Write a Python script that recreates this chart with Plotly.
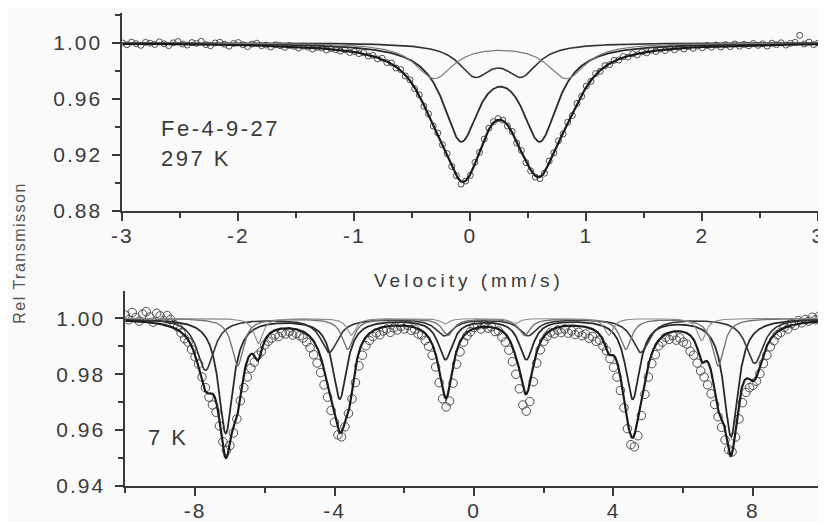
import numpy as np
import plotly.graph_objects as go

# ---------------- 297 K spectrum (top panel) ----------------
top_vmin, top_vmax = -3.0, 3.0
top_data = [
    0.9998, 0.9985, 1.0004, 0.9993, 0.9981, 1.0002, 0.9996, 0.9987, 1.0006, 0.9992,
    0.9979, 0.9999, 1.0008, 0.9990, 0.9983, 1.0001, 0.9995, 1.0010, 0.9986, 0.9978,
    0.9998, 1.0003, 0.9989, 0.9975, 0.9994, 1.0001, 0.9985, 0.9972, 0.9990, 0.9996,
    0.9978, 0.9983, 0.9969, 0.9985, 0.9979, 0.9966, 0.9980, 0.9974, 0.9961, 0.9975,
    0.9968, 0.9955, 0.9966, 0.9962, 0.9948, 0.9958, 0.9950, 0.9939, 0.9949, 0.9930,
    0.9937, 0.9922, 0.9928, 0.9905, 0.9909, 0.9884, 0.9889, 0.9858, 0.9855, 0.9819,
    0.9808, 0.9762, 0.9735, 0.9671, 0.9628, 0.9546, 0.9492, 0.9405, 0.9355, 0.9271,
    0.9208, 0.9116, 0.9050, 0.8990, 0.9012, 0.9052, 0.9145, 0.9217, 0.9312, 0.9390,
    0.9436, 0.9458, 0.9447, 0.9405, 0.9366, 0.9283, 0.9230, 0.9143, 0.9085, 0.9040,
    0.9029, 0.9068, 0.9155, 0.9213, 0.9299, 0.9348, 0.9432, 0.9480, 0.9566, 0.9617,
    0.9690, 0.9724, 0.9779, 0.9796, 0.9836, 0.9843, 0.9874, 0.9876, 0.9901, 0.9897,
    0.9921, 0.9913, 0.9935, 0.9927, 0.9946, 0.9937, 0.9955, 0.9944, 0.9962, 0.9950,
    0.9967, 0.9955, 0.9972, 0.9960, 0.9976, 0.9963, 0.9980, 0.9968, 0.9983, 0.9970,
    0.9986, 0.9972, 0.9991, 0.9975, 0.9988, 0.9978, 0.9994, 0.9981, 0.9992, 0.9976,
    0.9996, 0.9986, 0.9999, 0.9983, 0.9995, 1.0002, 1.0052, 0.9991, 1.0004, 0.9986,
    0.9997,
]
# fitted doublets: line positions (mm/s), dip depths, half widths
top_line_pos = [[-0.08, 0.60], [0.04, 0.44], [-0.31, 0.83]]
top_line_depth = [[0.066, 0.066], [0.0215, 0.0215], [0.025, 0.025]]
top_line_hwhm = [0.19, 0.17, 0.20]
top_xticks = [-3, -2, -1, 0, 1, 2, 3]
top_xminor = [-2.5, -1.5, -0.5, 0.5, 1.5, 2.5]
top_yticks = [0.88, 0.92, 0.96, 1.00]
top_yminor = [0.90, 0.94, 0.98, 1.02]

# ---------------- 7 K spectrum (bottom panel) ----------------
bot_vmin, bot_vmax = -10.0, 10.0
bot_data = [
    1.0012, 0.9995, 1.0021, 1.0003, 0.9990, 1.0015, 1.0024, 1.0005, 0.9986, 1.0018,
    1.0009, 0.9992, 1.0010, 0.9996, 0.9978, 0.9969, 0.9948, 0.9927, 0.9915, 0.9889,
    0.9862, 0.9836, 0.9790, 0.9752, 0.9718, 0.9690, 0.9664, 0.9615, 0.9558, 0.9528,
    0.9545, 0.9590, 0.9640, 0.9705, 0.9752, 0.9790, 0.9822, 0.9843, 0.9868, 0.9881,
    0.9905, 0.9918, 0.9929, 0.9941, 0.9935, 0.9949, 0.9944, 0.9952, 0.9940, 0.9946,
    0.9938, 0.9930, 0.9915, 0.9895, 0.9870, 0.9840, 0.9806, 0.9762, 0.9718, 0.9670,
    0.9628, 0.9583, 0.9576, 0.9612, 0.9660, 0.9712, 0.9770, 0.9830, 0.9868, 0.9902,
    0.9921, 0.9935, 0.9948, 0.9941, 0.9955, 0.9962, 0.9950, 0.9966, 0.9958, 0.9971,
    0.9962, 0.9975, 0.9957, 0.9961, 0.9944, 0.9940, 0.9921, 0.9900, 0.9868, 0.9826,
    0.9770, 0.9712, 0.9683, 0.9704, 0.9768, 0.9836, 0.9880, 0.9915, 0.9938, 0.9952,
    0.9967, 0.9975, 0.9962, 0.9978, 0.9965, 0.9970, 0.9953, 0.9955, 0.9934, 0.9915,
    0.9886, 0.9845, 0.9800, 0.9748, 0.9690, 0.9668, 0.9702, 0.9773, 0.9840, 0.9887,
    0.9918, 0.9936, 0.9950, 0.9945, 0.9958, 0.9949, 0.9962, 0.9947, 0.9955, 0.9942,
    0.9950, 0.9938, 0.9944, 0.9929, 0.9935, 0.9918, 0.9922, 0.9901, 0.9884, 0.9856,
    0.9825, 0.9790, 0.9742, 0.9680, 0.9605, 0.9548, 0.9540, 0.9580, 0.9652, 0.9728,
    0.9790, 0.9838, 0.9870, 0.9902, 0.9915, 0.9932, 0.9925, 0.9938, 0.9922, 0.9930,
    0.9915, 0.9908, 0.9882, 0.9868, 0.9840, 0.9812, 0.9790, 0.9762, 0.9730, 0.9692,
    0.9648, 0.9610, 0.9565, 0.9530, 0.9522, 0.9575, 0.9640, 0.9698, 0.9735, 0.9752,
    0.9760, 0.9775, 0.9802, 0.9838, 0.9868, 0.9898, 0.9920, 0.9941, 0.9950, 0.9968,
    0.9962, 0.9981, 0.9975, 0.9992, 0.9984, 0.9996, 0.9990, 1.0004, 0.9995, 1.0008,
    1.0002,
]
# fitted sextets: line positions (mm/s), dip depths, half widths
bot_line_pos = [
    [-7.12, -3.85, -0.82, 1.50, 4.55, 7.37],
    [-7.70, -4.15, -0.85, 1.55, 4.78, 8.05],
    [-6.78, -3.62, -0.75, 1.45, 4.35, 7.00],
    [-6.19, -3.52, -0.83, 1.17, 3.86, 6.53],
]
bot_line_depth = [
    [0.041, 0.0285, 0.0143, 0.0143, 0.0285, 0.042],
    [0.0185, 0.012, 0.006, 0.006, 0.012, 0.016],
    [0.017, 0.011, 0.006, 0.006, 0.011, 0.017],
    [0.009, 0.006, 0.002, 0.002, 0.006, 0.008],
]
bot_line_hwhm = [0.25, 0.30, 0.20, 0.15]
bot_xticks = [-8, -4, 0, 4, 8]
bot_xminor = [-10, -6, -2, 2, 6, 10]
bot_yticks = [0.94, 0.96, 0.98, 1.00]
bot_yminor = [0.95, 0.97, 0.99]

# ---------------- styles ----------------
top_comp_style = [("#2a2a2a", 1.8), ("#333333", 1.6), ("#7c7c7c", 1.2)]
bot_comp_style = [("#2a2a2a", 1.8), ("#353535", 1.6), ("#6f6f6f", 1.3), ("#8c8c8c", 1.1)]
total_color = "#1a1a1a"
axis_color = "#3a3a3a"
text_color = "#3a3a3a"
font_family = "Liberation Sans, Arial, sans-serif"
bg = "#fafafa"


def lorentz_dip(v, pos, depth, hwhm):
    out = np.zeros_like(v)
    for p, d in zip(pos, depth):
        out += d / (1.0 + ((v - p) / hwhm) ** 2)
    return out


fig = go.Figure()


def add_panel(data, vmin, vmax, pos, depth, hwhm, styles, xa, ya, msize):
    v = np.linspace(vmin, vmax, len(data))
    fig.add_trace(go.Scatter(
        x=v, y=data, mode="markers", xaxis=xa, yaxis=ya,
        marker=dict(symbol="circle-open", size=msize, color="#4f4f4f",
                    line=dict(width=1, color="#4f4f4f")),
        hoverinfo="skip"))
    grid = np.linspace(vmin, vmax, 2401)
    total = np.ones_like(grid)
    for p, d, w, (c, lw) in zip(pos, depth, hwhm, styles):
        dip = lorentz_dip(grid, p, d, w)
        total -= dip
        fig.add_trace(go.Scatter(
            x=grid, y=1.0 - dip, mode="lines", xaxis=xa, yaxis=ya,
            line=dict(color=c, width=lw), hoverinfo="skip"))
    fig.add_trace(go.Scatter(
        x=grid, y=total, mode="lines", xaxis=xa, yaxis=ya,
        line=dict(color=total_color, width=2.2), hoverinfo="skip"))


add_panel(top_data, top_vmin, top_vmax, top_line_pos, top_line_depth,
          top_line_hwhm, top_comp_style, "x", "y", 6)
add_panel(bot_data, bot_vmin, bot_vmax, bot_line_pos, bot_line_depth,
          bot_line_hwhm, bot_comp_style, "x2", "y2", 8.5)

W, H = 826, 522
OFF = 8  # page body margin of the browser


def px(xs):
    return (xs - OFF) / W


def py(ys):
    return (H - (ys - OFF)) / H


def axis_common():
    return dict(
        showline=True, linecolor=axis_color, linewidth=2,
        ticks="outside", ticklen=8, tickwidth=2, tickcolor=axis_color,
        showgrid=False, zeroline=False, mirror=False, automargin=False,
        tickfont=dict(family=font_family, size=21, color=text_color),
        tickmode="array",
    )


def minor(vals):
    return dict(tickvals=vals, ticklen=5, tickwidth=2, tickcolor=axis_color,
                ticks="outside", showgrid=False)


xa = axis_common()
xa.update(domain=[px(122.3), px(818.3)], range=[top_vmin, top_vmax], anchor="y",
          tickvals=top_xticks, ticktext=[str(t) for t in top_xticks],
          minor=minor(top_xminor), ticklabelstandoff=-3)
ya = axis_common()
ya.update(domain=[py(210.7), py(13)], range=[0.88, 1.0212], anchor="x",
          tickvals=top_yticks, ticktext=[f"{t:.2f}" for t in top_yticks],
          minor=minor(top_yminor), ticklabelstandoff=6)
xa2 = axis_common()
xa2.update(domain=[px(125.3), px(822.7)], range=[bot_vmin, bot_vmax], anchor="y2",
           tickvals=bot_xticks, ticktext=[str(t) for t in bot_xticks],
           minor=minor(bot_xminor), ticklabelstandoff=-3)
ya2 = axis_common()
ya2.update(domain=[py(486), py(290.7)], range=[0.94, 1.0099], anchor="x2",
           tickvals=bot_yticks, ticktext=[f"{t:.2f}" for t in bot_yticks],
           minor=minor(bot_yminor), ticklabelstandoff=6)

annotations = [
    dict(text="Velocity (mm/s)", x=px(469), y=py(280), xref="paper", yref="paper",
         showarrow=False, xanchor="center", yanchor="middle",
         font=dict(family=font_family, size=19, color=text_color)),
    dict(text="Rel Transmisson", x=px(19.5), y=py(253), xref="paper", yref="paper",
         showarrow=False, xanchor="center", yanchor="middle", textangle=-90,
         font=dict(family=font_family, size=16, color="#555555")),
    dict(text="Fe-4-9-27", x=px(159), y=py(128.5), xref="paper", yref="paper",
         showarrow=False, xanchor="left", yanchor="middle", align="left",
         font=dict(family=font_family, size=22, color=text_color)),
    dict(text="297 K", x=px(159), y=py(158), xref="paper", yref="paper",
         showarrow=False, xanchor="left", yanchor="middle", align="left",
         font=dict(family=font_family, size=22, color=text_color)),
    dict(text="7 K", x=px(146), y=py(437.5), xref="paper", yref="paper",
         showarrow=False, xanchor="left", yanchor="middle", align="left",
         font=dict(family=font_family, size=22, color=text_color)),
]

fig.update_layout(
    template="none",
    width=W, height=H, margin=dict(l=0, r=0, t=0, b=0, pad=0),
    paper_bgcolor=bg, plot_bgcolor=bg, showlegend=False,
    xaxis=xa, yaxis=ya, xaxis2=xa2, yaxis2=ya2,
    annotations=annotations,
)

# the original figure uses widely spaced lettering
letter_spacing_js = """
var gd = document.getElementById('{plot_id}');
gd.querySelectorAll('text').forEach(function (t) {
  var s = t.textContent;
  var ls = '2px';
  if (s.indexOf('Velocity') === 0) { ls = '4px'; }
  else if (s.indexOf('Rel ') === 0) { ls = '1.5px'; }
  else if (t.classList.contains('annotation-text')) { ls = '2.5px'; }
  t.setAttribute('letter-spacing', ls);
});
"""

fig.write_html("out.html", post_script=letter_spacing_js)
